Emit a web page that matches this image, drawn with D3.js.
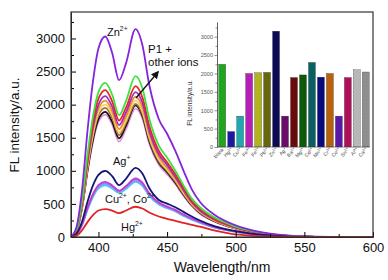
<!DOCTYPE html>
<html lang="en">
<meta charset="utf-8">
<head>
    <script src="https://d3js.org/d3.v7.min.js"></script>
    <style>
        body { margin: 0; background: #fff; }
        svg { font-family: "Liberation Sans", Arial, sans-serif; }
    </style>
</head>
<body>
<div id="chart"></div>
<script>
// wavelength grid (nm) used by every spectrum
const wl = [380,384,388,392,396,400,405,410,415,420,427,432,437,444,450,456,462,468,474,485,497,510,525,545,570,600];

// spectra
const specZn     = [0,150,700,1600,2350,2850,3030,2780,2370,2620,3140,2900,2300,1780,1560,1300,1000,720,530,330,200,110,50,12,0,0];
const specGreen  = [0,110,540,1240,1820,2190,2330,2150,1840,2050,2430,2250,1790,1380,1200,1000,780,580,450,290,180,100,45,10,0,0];
const specRed    = [0,105,510,1180,1730,2090,2220,2050,1760,1950,2280,2110,1680,1300,1130,950,740,550,420,270,170,95,42,10,0,0];
const specViolet = [0,100,490,1130,1660,2000,2130,1970,1690,1880,2190,2030,1610,1250,1090,910,710,530,400,260,160,90,40,9,0,0];
const specOrange = [0,95,470,1090,1610,1940,2060,1900,1630,1820,2120,1960,1560,1210,1050,880,690,510,390,250,155,85,38,9,0,0];
const specYellow = [0,92,460,1060,1560,1880,2000,1850,1580,1760,2060,1900,1510,1170,1020,860,670,500,380,245,150,82,37,9,0,0];
const specBrown  = [0,90,450,1030,1520,1840,1950,1800,1540,1720,2010,1860,1480,1140,1000,840,650,490,370,240,148,80,36,8,0,0];
const specBlack  = [0,88,435,1000,1470,1780,1890,1740,1490,1680,1990,1830,1450,1120,980,820,640,480,360,235,145,78,35,8,0,0];
const specPink   = [0,85,420,980,1440,1740,1850,1700,1440,1630,1940,1790,1410,1090,950,800,620,465,350,228,140,75,34,8,0,0];
const specAg     = [0,50,230,530,780,940,1000,920,784,880,1045,960,740,560,505,450,380,310,250,160,100,55,25,6,0,0];
const specCo     = [0,40,190,440,650,785,834,780,700,770,885,820,660,520,460,410,340,280,230,150,95,52,24,6,0,0];
const specLilac  = [0,38,185,430,635,765,815,765,690,755,865,800,645,510,450,400,332,272,222,145,92,50,23,5,0,0];
const specLtBlue = [0,37,180,420,620,750,800,750,680,742,850,787,635,500,442,393,325,267,218,142,90,49,22,5,0,0];
const specCyan   = [0,36,175,410,605,730,780,732,665,725,835,772,622,490,435,386,318,262,214,140,88,48,22,5,0,0];
const specHg     = [0,20,100,225,330,400,422,400,360,400,457,430,370,310,275,245,212,182,155,95,48,22,8,2,0,0];

// inset bar chart
const ionNames   = ["blank","Hg","Cu","Fe","Fe","Pb","Zn","Ag","Ba","Mg","Cd","Mn","Cr","Co","Sn","Al","Ca"];
const ionCharges = ["","2+","2+","3+","2+","2+","2+","+","2+","2+","2+","2+","3+","2+","2+","3+","2+"];
const barValues  = [2250,420,840,2000,2020,2030,3150,840,1890,1960,2300,1900,2000,840,1890,2100,2040];
const barColors  = ["#1fa51f","#1a1aa0","#20a8b0","#b420b4","#b8b820","#6a6a10","#0a0a55","#6a0a6a","#6a0a0a","#0a5a0a","#0a6060","#0a0a7a","#b8600a","#5a18a8","#b0105a","#bdbdbd","#939393"];
const barHatched = [false,false,false,false,true,true,false,false,false,false,false,false,false,false,false,true,true];

const yTicks = [0,500,1000,1500,2000,2500,3000];
const xTicks = [400,450,500,550,600];

const width = 388, height = 280;
const svg = d3.select("#chart").append("svg")
    .attr("width", width).attr("height", height);

const x = d3.scaleLinear().domain([380,600]).range([71,373]);
const y = d3.scaleLinear().domain([0,3400]).range([237,12]);

// spectra, drawn back to front
const series = [
    {v: specPink, c: "#e68fe0"},
    {v: specBlack, c: "#111111"},
    {v: specBrown, c: "#a8703c"},
    {v: specYellow, c: "#f3d46a"},
    {v: specOrange, c: "#f08a2a"},
    {v: specViolet, c: "#9a2fc4"},
    {v: specRed, c: "#e3262c"},
    {v: specGreen, c: "#3ee23e"},
    {v: specZn, c: "#8524dc"},
    {v: specCyan, c: "#3fd6ee"},
    {v: specLtBlue, c: "#6fb0f2"},
    {v: specLilac, c: "#9a86ee"},
    {v: specCo, c: "#c23ad8"},
    {v: specAg, c: "#16166e"},
    {v: specHg, c: "#e02424"}
];

const line = d3.line()
    .x((d, i) => x(wl[i]))
    .y(d => y(d))
    .curve(d3.curveMonotoneX);

svg.append("g").selectAll("path")
    .data(series)
    .enter().append("path")
    .attr("d", d => line(d.v))
    .attr("fill", "none")
    .attr("stroke", d => d.c)
    .attr("stroke-width", 1.8);

// axes, ticks pointing inward
const fmt = d3.format("d");
svg.append("g").attr("transform", "translate(0,237)")
    .call(d3.axisBottom(x).tickValues(xTicks).tickSize(-5).tickSizeOuter(0).tickPadding(6).tickFormat(fmt));
svg.append("g").attr("transform", "translate(0,237)")
    .call(d3.axisBottom(x).tickValues([425,475,525,575]).tickSize(-3).tickSizeOuter(0).tickFormat(""));
svg.append("g").attr("transform", "translate(71,0)")
    .call(d3.axisLeft(y).tickValues(yTicks).tickSize(-5).tickSizeOuter(0).tickPadding(6).tickFormat(fmt));
svg.append("g").attr("transform", "translate(71,0)")
    .call(d3.axisLeft(y).tickValues([250,750,1250,1750,2250,2750,3250]).tickSize(-3).tickSizeOuter(0).tickFormat(""));

svg.selectAll(".tick text").attr("font-size", 13).attr("fill", "#111")
    .attr("font-family", "Liberation Sans, Arial, sans-serif");
svg.selectAll(".domain").attr("stroke", "#222");

svg.append("rect")
    .attr("x", 71).attr("y", 12).attr("width", 302).attr("height", 225)
    .attr("fill", "none").attr("stroke", "#333").attr("stroke-width", 1.2);

svg.append("text").attr("x", 222).attr("y", 272)
    .attr("text-anchor", "middle").attr("font-size", 14).attr("fill", "#111")
    .text("Wavelength/nm");
svg.append("text").attr("transform", "translate(19,125) rotate(-90)")
    .attr("text-anchor", "middle").attr("font-size", 13.5).attr("fill", "#111")
    .text("FL intensity/a.u.");

// annotations with superscripts
function label(tx, ty, parts, size) {
    const t = svg.append("text").attr("x", tx).attr("y", ty)
        .attr("font-size", size).attr("fill", "#111");
    let raised = false;
    parts.forEach(p => {
        const s = t.append("tspan").text(p.t);
        if (p.sup) {
            s.attr("dy", -5).attr("font-size", size * 0.62);
            raised = true;
        } else if (raised) {
            s.attr("dy", 5);
            raised = false;
        }
    });
}
label(107, 36, [{t: "Zn"}, {t: "2+", sup: true}], 11);
label(148, 53, [{t: "P1 +"}], 11.5);
label(148, 66, [{t: "other ions"}], 11.5);
label(113, 165, [{t: "Ag"}, {t: "+", sup: true}], 11);
label(105, 203, [{t: "Cu"}, {t: "2+", sup: true}, {t: ", Co"}, {t: "2+", sup: true}], 11);
label(121, 231, [{t: "Hg"}, {t: "2+", sup: true}], 11);

const defs = svg.append("defs");
defs.append("marker").attr("id", "arr")
    .attr("viewBox", "0 0 10 10").attr("refX", 8).attr("refY", 5)
    .attr("markerWidth", 6).attr("markerHeight", 6).attr("orient", "auto")
    .append("path").attr("d", "M0,0 L10,5 L0,10 Z").attr("fill", "#111");
svg.append("line").attr("x1", 136).attr("y1", 98).attr("x2", 158).attr("y2", 72)
    .attr("stroke", "#111").attr("stroke-width", 1.3).attr("marker-end", "url(#arr)");

// inset
const xi = d3.scaleBand().domain(d3.range(ionNames.length)).range([218,370]).paddingInner(0.22).paddingOuter(0.08);
const yi = d3.scaleLinear().domain([0,3400]).range([147,22]);

barColors.forEach((c, i) => {
    if (!barHatched[i]) return;
    const p = defs.append("pattern").attr("id", "hatch" + i)
        .attr("patternUnits", "userSpaceOnUse").attr("width", 2.5).attr("height", 2.5)
        .attr("patternTransform", "rotate(45)");
    p.append("rect").attr("width", 2.5).attr("height", 2.5).attr("fill", c);
    p.append("line").attr("x1", 0).attr("y1", 0).attr("x2", 0).attr("y2", 2.5)
        .attr("stroke", d3.color(c).darker(0.6)).attr("stroke-width", 0.8);
});

const inset = svg.append("g");
inset.selectAll("rect")
    .data(barValues)
    .enter().append("rect")
    .attr("x", (d, i) => xi(i))
    .attr("y", d => yi(d))
    .attr("width", xi.bandwidth())
    .attr("height", d => yi(0) - yi(d))
    .attr("fill", (d, i) => barHatched[i] ? "url(#hatch" + i + ")" : barColors[i])
    .attr("stroke", "#333").attr("stroke-width", 0.3);

inset.append("g").attr("transform", "translate(217,0)")
    .call(d3.axisLeft(yi).tickValues(yTicks).tickSize(2.5).tickSizeOuter(0).tickPadding(1.5).tickFormat(fmt));
inset.append("g").attr("transform", "translate(217,0)")
    .call(d3.axisLeft(yi).tickValues([250,750,1250,1750,2250,2750,3250]).tickSize(1.5).tickSizeOuter(0).tickFormat(""));
inset.selectAll(".tick text").attr("font-size", 5.5).attr("fill", "#555");
inset.selectAll(".tick line, .domain").attr("stroke", "#444").attr("stroke-width", 0.6);

inset.append("line").attr("x1", 217).attr("x2", 370).attr("y1", 147).attr("y2", 147)
    .attr("stroke", "#444").attr("stroke-width", 0.6);

ionNames.forEach((n, i) => {
    const cx = xi(i) + xi.bandwidth() / 2 + 2;
    const t = inset.append("text")
        .attr("transform", "translate(" + cx + ",150) rotate(-45)")
        .attr("text-anchor", "end").attr("font-size", 5).attr("fill", "#444");
    t.append("tspan").text(n);
    if (ionCharges[i]) t.append("tspan").attr("dy", -2).attr("font-size", 3.5).text(ionCharges[i]);
});

inset.append("text").attr("transform", "translate(192,103) rotate(-90)")
    .attr("text-anchor", "middle").attr("font-size", 6.5).attr("fill", "#333")
    .text("FL intensity/a.u.");
</script>
</body>
</html>
